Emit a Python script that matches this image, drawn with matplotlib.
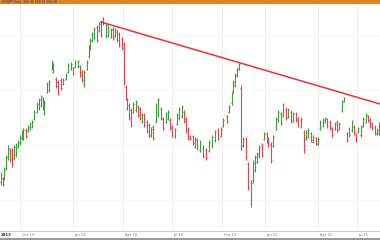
import matplotlib
matplotlib.use("Agg")
import matplotlib.pyplot as plt
from matplotlib.patches import Rectangle

day = [1,3,4,6,8,10,12,14,16,18,20,22,23,26,28,30,32,34,37,39,41,43,44,47,49,52,53,56,58,61,
       63,66,68,71,73,75,78,80,82,84,87,89,90,92,94,97,99,101,103,106,108,111,113,115,117,119,122,124,126,127,
       129,131,133,136,138,140,142,144,147,149,151,153,156,158,161,163,166,168,170,172,175,177,179,182,184,186,188,190,193,195,
       197,200,203,206,209,212,215,218,221,223,227,229,232,233,235,237,239,241,243,246,248,251,253,255,257,259,262,264,267,268,
       271,273,276,278,281,283,286,288,291,293,296,298,301,304,306,308,311,313,316,318,320,323,325,327,330,332,335,337,339,342,
       344,347,349,352,354,356,358,361,363,366,368,370,372,375,377,379]
high = [68,63,73,85,95,92,92,95,97,100,105,110,112,112,115,118,120,130,138,142,145,143,140,158,160,180,177,163,160,162,
        162,167,177,178,173,180,180,175,170,170,180,195,202,208,213,215,218,220,223,217,215,212,213,212,210,208,203,198,155,142,
        137,132,138,140,135,133,127,127,120,117,113,115,137,142,133,123,128,130,122,115,112,127,133,135,130,123,113,105,105,103,
        102,100,95,92,100,105,110,112,113,122,125,135,148,160,167,173,177,155,103,103,78,60,80,85,88,95,97,108,108,103,
        98,105,123,130,128,137,133,132,130,128,128,123,123,110,110,112,108,105,103,103,120,122,123,122,120,113,118,120,118,140,
        143,108,113,120,115,107,113,115,123,127,125,122,118,115,112,118]
low = [55,54,60,70,80,78,73,80,83,92,95,100,100,102,108,110,112,120,127,130,133,130,125,147,148,170,167,152,145,150,
       155,160,167,170,165,172,172,163,158,153,170,182,190,198,200,198,208,203,215,202,203,202,200,203,198,193,190,155,140,130,
       120,113,127,128,123,120,117,113,107,103,103,100,117,123,120,110,117,120,110,103,102,115,120,122,117,107,100,100,95,92,
       90,88,82,80,88,92,98,100,103,113,117,127,135,147,153,163,170,90,93,80,50,33,57,68,77,82,83,100,97,93,
       77,93,110,118,115,123,120,122,117,118,118,113,112,87,100,102,98,97,95,95,110,113,117,112,110,103,110,108,110,128,
       138,98,103,108,105,98,107,103,113,117,118,112,110,105,105,105]
open_ = [58,62,62,72,83,90,89,82,85,93,97,102,103,110,109,111,113,121,128,132,135,141,127,148,150,171,168,161,158,160,
         156,161,168,171,172,173,174,174,168,156,171,184,191,199,202,213,209,218,222,204,205,203,211,204,208,206,201,195,153,132,
         135,130,128,130,133,131,118,125,118,115,104,113,119,125,131,121,118,121,120,113,103,116,122,124,128,121,111,104,104,93,
         100,90,93,90,89,94,100,110,104,114,124,128,137,149,155,164,171,152,94,101,76,37,60,70,78,84,95,101,106,101,
         96,94,111,119,126,124,131,123,128,119,127,121,113,108,101,103,107,98,102,96,111,114,118,121,118,111,111,118,111,129,
         139,106,111,110,113,105,108,105,114,118,124,120,117,113,106,107]
close = [65,56,70,82,92,81,76,93,95,98,103,108,110,104,113,116,118,128,136,140,143,132,138,156,158,178,175,154,147,152,
         160,165,175,176,166,178,179,165,160,168,178,193,200,206,211,200,216,205,217,215,213,210,202,210,200,195,192,158,142,140,
         122,115,136,138,125,122,125,115,109,105,111,102,135,140,122,112,126,128,112,105,110,125,131,133,119,109,102,101,97,101,
         92,98,84,82,98,103,108,102,111,120,118,133,146,158,165,171,176,95,101,83,53,57,77,83,86,93,85,106,99,95,
         80,103,121,128,117,135,122,130,119,126,120,115,121,90,108,110,100,103,96,101,118,120,122,114,112,105,116,110,116,138,
         142,100,105,118,107,100,112,113,121,125,119,114,112,107,110,116]

trend_day = [101, 380]
trend_val = [218, 136]

grid_days = [20, 73, 123, 172, 222, 265, 318, 357]
tick_labels = ["Oct 13", "Jan 14", "Apr 14", "Jul 14", "Oct 14", "Jan 15", "Apr 15", "Jul 15"]

GREEN = "#3f9b3f"
RED = "#e5414b"

fig = plt.figure(figsize=(3.8, 2.4), dpi=100)
fig.patch.set_facecolor("white")
ax = fig.add_axes([0.0, 0.0375, 1.0, 0.9415])
ax.set_facecolor("white")

for d in grid_days:
    ax.axvline(d, color="#ececec", lw=0.6, zorder=0)
for p in [40, 95, 150, 205]:
    ax.axhline(p, color="#f2f2f2", lw=0.5, zorder=0)

for d, h, l, o, c in zip(day, high, low, open_, close):
    col = GREEN if c >= o else RED
    ax.vlines(d, l, h, color=col, lw=0.8, zorder=2)
    ax.hlines(o, d - 1.0, d, color=col, lw=0.7, zorder=2)
    ax.hlines(c, d, d + 1.0, color=col, lw=0.7, zorder=2)

ax.plot(trend_day, trend_val, color="#e8323c", lw=1.1, zorder=3)

ax.set_xlim(0, 380)
ax.set_ylim(9, 235)
ax.set_xticks([])
ax.set_yticks([])
for s in ax.spines.values():
    s.set_visible(False)

# header bar
fig.patches.append(Rectangle((0, 0.985), 1, 0.015, transform=fig.transFigure,
                             facecolor="#d9852a", edgecolor="none"))
fig.patches.append(Rectangle((0, 0.979), 1, 0.006, transform=fig.transFigure,
                             facecolor="#fbf3c8", edgecolor="none"))
fig.text(0.005, 0.992, "USDJPY,Daily  102.45 102.61 102.40", fontsize=2.2, color="#3a3a5a",
         va="center", ha="left")

# bottom axis line and strip
fig.patches.append(Rectangle((0, 0.035), 1, 0.004, transform=fig.transFigure,
                             facecolor="#b8d4d0", edgecolor="none"))
fig.patches.append(Rectangle((0, 0.0), 1, 0.01, transform=fig.transFigure,
                             facecolor="#9a9a9a", edgecolor="none"))
fig.text(0.002, 0.021, "2013", fontsize=2.8, color="#333333", va="center", ha="left",
         fontweight="bold")
for d, lab in zip(grid_days, tick_labels):
    x = ax.transData.transform((d, 0))[0] / fig.bbox.width
    fig.text(x + 0.004, 0.021, lab, fontsize=2.6, color="#777777", va="center", ha="left")

fig.savefig("out.png", dpi=100)
